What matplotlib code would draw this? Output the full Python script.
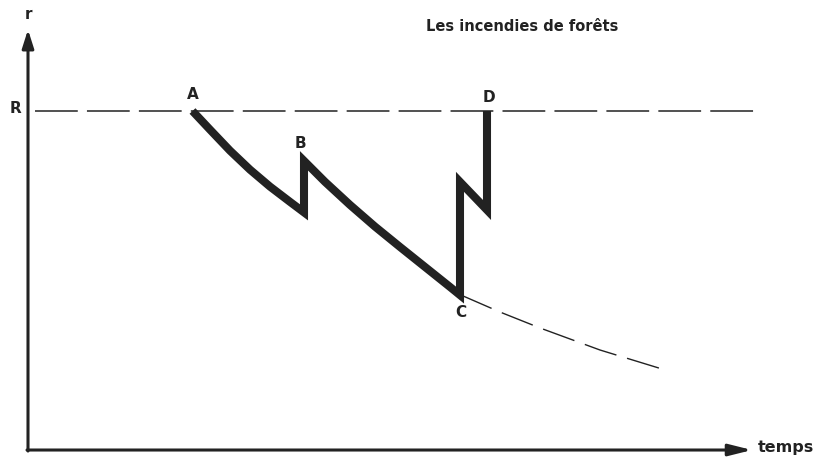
import matplotlib.pyplot as plt

# values (time units arbitrary, r normalised so R = 1)
R_level = 1.0

# A -> just before B (first decline)
t_seg1 = [1.645, 1.82, 2.02, 2.22, 2.42, 2.62, 2.76]
r_seg1 = [1.0, 0.945, 0.883, 0.827, 0.777, 0.732, 0.701]

# B -> C (second decline)
t_seg2 = [2.76, 2.97, 3.22, 3.47, 3.72, 3.97, 4.22, 4.32]
r_seg2 = [0.853, 0.791, 0.723, 0.659, 0.599, 0.540, 0.481, 0.457]

# C -> jump -> dip -> D
t_seg3 = [4.32, 4.32, 4.59, 4.59]
r_seg3 = [0.457, 0.791, 0.708, 1.0]

# continuation of the decline without intervention
t_cont = [4.33, 4.72, 5.12, 5.72, 6.34]
r_cont = [0.457, 0.407, 0.360, 0.295, 0.239]

point_names = ["A", "B", "C", "D"]
point_t = [1.65, 2.72, 4.33, 4.61]
point_r = [1.05, 0.905, 0.405, 1.04]

ink = "#222222"

fig = plt.figure(figsize=(8.23, 4.57), dpi=100)
ax = fig.add_axes([0, 0, 1, 1])
ax.set_xlim(-0.28, 7.95)
ax.set_ylim(-0.0206, 1.3274)
ax.axis("off")

# axes with arrows
ax.annotate("", xy=(0, 1.24), xytext=(0, -0.003),
            arrowprops=dict(arrowstyle="-|>,head_length=1.1,head_width=0.35",
                            color=ink, lw=2.2, shrinkA=0, shrinkB=0))
ax.annotate("", xy=(7.24, 0), xytext=(-0.01, 0),
            arrowprops=dict(arrowstyle="-|>,head_length=1.4,head_width=0.35",
                            color=ink, lw=2.2, shrinkA=0, shrinkB=0))

# reference level R
ax.plot([0.07, 7.27], [R_level, R_level], color=ink, lw=1.1,
        linestyle=(0, (28, 6)))

# the trajectory
ax.plot(t_seg1 + t_seg2 + t_seg3, r_seg1 + r_seg2 + r_seg3,
        color=ink, lw=5.8, solid_joinstyle="miter", solid_capstyle="butt")
ax.plot(t_cont, r_cont, color=ink, lw=1.0, linestyle=(0, (24, 8)))

for name, t, r in zip(point_names, point_t, point_r):
    ax.text(t, r, name, fontsize=11, fontweight="bold", color=ink,
            ha="center", va="center")

ax.text(0.0, 1.286, "r", fontsize=11, fontweight="bold", color=ink,
        ha="center", va="center")
ax.text(-0.13, R_level + 0.008, "R", fontsize=11, fontweight="bold", color=ink,
        ha="center", va="center")
ax.text(7.30, 0.006, "temps", fontsize=11.5, fontweight="bold", color=ink,
        ha="left", va="center")
ax.text(4.94, 1.25, "Les incendies de forêts", fontsize=10.5,
        fontweight="bold", color=ink, ha="center", va="center")

fig.savefig("out.png", dpi=100)
